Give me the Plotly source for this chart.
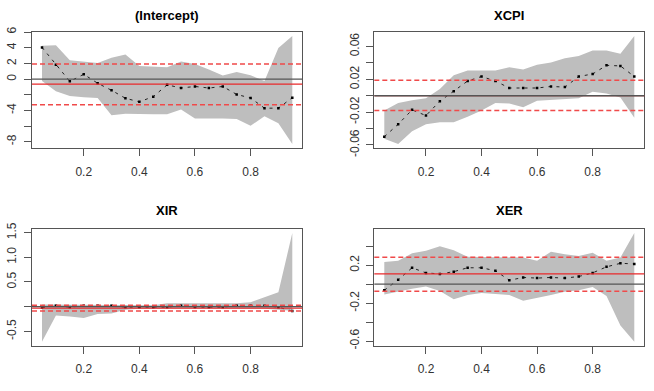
import plotly.graph_objects as go

taus = [0.05, 0.10, 0.15, 0.20, 0.25, 0.30, 0.35, 0.40, 0.45, 0.50,
        0.55, 0.60, 0.65, 0.70, 0.75, 0.80, 0.85, 0.90, 0.95]

titles = ["(Intercept)", "XCPI", "XIR", "XER"]

# quantile regression coefficient estimates
coef_intercept = [4.04, 1.84, -0.29, 0.61, -0.53, -1.43, -2.45, -2.90, -2.24, -0.73,
                  -1.14, -0.94, -1.14, -0.94, -1.96, -2.41, -3.71, -3.71, -2.37]
coef_xcpi = [-0.0499, -0.0347, -0.0172, -0.0242, -0.0066, 0.0055, 0.0179, 0.0234, 0.0179, 0.0094,
             0.0094, 0.0094, 0.0113, 0.0105, 0.0234, 0.0265, 0.0370, 0.0363, 0.0234]
coef_xir = [-0.02, 0.02, -0.01, 0.02, 0.02, 0.02, -0.01, -0.01, -0.01, -0.01,
            0.02, -0.01, -0.01, -0.01, 0.02, 0.02, 0.02, -0.01, -0.09]
coef_xer = [-0.064, 0.047, 0.173, 0.119, 0.108, 0.132, 0.173, 0.173, 0.142, 0.041,
            0.071, 0.064, 0.071, 0.064, 0.081, 0.119, 0.183, 0.220, 0.214]

# confidence band (lower / upper)
lo_intercept = [-0.24, -1.55, -2.16, -2.33, -2.41, -4.61, -4.41, -4.41, -4.49, -4.49,
                -3.88, -5.02, -5.02, -5.02, -5.10, -5.96, -4.73, -5.63, -8.29]
hi_intercept = [4.24, 4.33, 2.41, 2.24, 2.04, 2.73, 3.14, 1.67, 1.63, 1.51,
                2.24, 1.92, 1.22, 0.45, 0.90, 0.49, -0.24, 3.96, 5.51]
lo_xcpi = [-0.0523, -0.0589, -0.0433, -0.0347, -0.0324, -0.0324, -0.0257, -0.0179, -0.0090, -0.0094,
           -0.0140, -0.0062, -0.0051, -0.0039, -0.0031, 0.0047, 0.0027, -0.0023, -0.0269]
hi_xcpi = [-0.0179, -0.0090, -0.0055, -0.0031, 0.0082, 0.0250, 0.0308, 0.0308, 0.0308, 0.0347,
           0.0320, 0.0378, 0.0406, 0.0456, 0.0484, 0.0550, 0.0550, 0.0511, 0.0729]
lo_xir = [-0.71, -0.18, -0.20, -0.23, -0.15, -0.14, -0.065, -0.04, -0.04, -0.035,
          -0.035, -0.035, -0.035, -0.035, -0.035, -0.04, -0.04, -0.065, -0.085]
hi_xir = [0.045, 0.045, 0.03, 0.03, 0.03, 0.03, 0.03, 0.03, 0.03, 0.07,
          0.07, 0.07, 0.07, 0.07, 0.07, 0.09, 0.19, 0.29, 1.49]
lo_xer = [-0.108, -0.081, -0.047, -0.024, -0.071, -0.159, -0.115, -0.092, -0.105, -0.115,
          -0.176, -0.149, -0.115, -0.081, -0.064, -0.031, -0.125, -0.437, -0.607]
hi_xer = [0.234, 0.247, 0.325, 0.353, 0.400, 0.359, 0.288, 0.288, 0.285, 0.281,
          0.281, 0.247, 0.342, 0.315, 0.298, 0.332, 0.247, 0.281, 0.539]

# OLS estimate and +/- band
ols = [-0.65, 0.0, -0.03, 0.108]
ols_hi = [1.92, 0.0187, 0.03, 0.285]
ols_lo = [-3.27, -0.0179, -0.09, -0.075]

# y tick values and labels (R hides overlapping labels)
yticks = [
    ([-8, -6, -4, -2, 0, 2, 4, 6], ["-8", "", "-4", "", "0", "2", "4", "6"]),
    ([-0.06, -0.04, -0.02, 0.0, 0.02, 0.04, 0.06], ["-0.06", "", "-0.02", "", "0.02", "", "0.06"]),
    ([-0.5, 0.0, 0.5, 1.0, 1.5], ["-0.5", "", "0.5", "1.0", "1.5"]),
    ([-0.6, -0.4, -0.2, 0.0, 0.2, 0.4], ["-0.6", "", "-0.2", "", "0.2", ""]),
]
xtickvals = [0.2, 0.4, 0.6, 0.8]
xticktext = ["0.2", "0.4", "0.6", "0.8"]

coefs = [coef_intercept, coef_xcpi, coef_xir, coef_xer]
los = [lo_intercept, lo_xcpi, lo_xir, lo_xer]
his = [hi_intercept, hi_xcpi, hi_xir, hi_xer]

W, H = 654, 391
xdoms = [[32 / W, 302.3 / W], [374.3 / W, 644.3 / W]]
ydoms = [[1 - 147.7 / H, 1 - 26.5 / H], [1 - 352.7 / H, 1 - 231 / H]]
title_y = [1 - 9.5 / H, 1 - 212.5 / H]

FONT = "Liberation Sans, Arial, sans-serif"
fig = go.Figure()
layout = dict(width=W, height=H, margin=dict(l=0, r=0, t=0, b=0),
              paper_bgcolor="white", plot_bgcolor="white", showlegend=False,
              font=dict(family=FONT, size=11, color="#333"))
shapes = []
annotations = []

xmin, xmax = min(taus), max(taus)
xpad = 0.04 * (xmax - xmin)

for i in range(4):
    r, c = divmod(i, 2)
    xa = "x" if i == 0 else f"x{i+1}"
    ya = "y" if i == 0 else f"y{i+1}"
    xkey = "xaxis" if i == 0 else f"xaxis{i+1}"
    ykey = "yaxis" if i == 0 else f"yaxis{i+1}"
    lo, hi, cf = los[i], his[i], coefs[i]
    # band polygon
    fig.add_trace(go.Scatter(x=taus + taus[::-1], y=hi + lo[::-1], mode="lines",
                             fill="toself", fillcolor="#bebebe", line=dict(width=0),
                             xaxis=xa, yaxis=ya, hoverinfo="skip"))
    fig.add_trace(go.Scatter(x=taus, y=cf, mode="lines+markers",
                             line=dict(color="#222", width=1, dash="3px,5px"),
                             marker=dict(color="black", size=2.5, symbol="square"),
                             xaxis=xa, yaxis=ya))
    ymin = min(lo + [ols_lo[i]])
    ymax = max(hi + [ols_hi[i]])
    ypad = 0.04 * (ymax - ymin)
    common = dict(showgrid=False, zeroline=False, showline=True, mirror=True,
                  linecolor="#555", linewidth=1, ticks="outside", ticklen=7,
                  tickcolor="#555", tickfont=dict(size=12, color="#333", family=FONT))
    layout[xkey] = dict(domain=xdoms[c], anchor=ya, range=[xmin - xpad, xmax + xpad],
                        tickmode="array", tickvals=xtickvals, ticktext=xticktext,
                        ticklabelstandoff=5, **common)
    layout[ykey] = dict(domain=ydoms[r], anchor=xa, range=[ymin - ypad, ymax + ypad],
                        tickmode="array", tickvals=yticks[i][0], ticktext=yticks[i][1],
                        tickangle=-90, ticklabelstandoff=3, **common)
    # OLS lines and zero line
    shapes.append(dict(type="line", xref=f"{xa} domain", yref=ya, x0=0, x1=1,
                       y0=ols[i], y1=ols[i], line=dict(color="#e8282a", width=1.2)))
    for v in (ols_hi[i], ols_lo[i]):
        shapes.append(dict(type="line", xref=f"{xa} domain", yref=ya, x0=0, x1=1,
                           y0=v, y1=v, line=dict(color="#f04a4a", width=1.5, dash="5px,3px")))
    shapes.append(dict(type="line", xref=f"{xa} domain", yref=ya, x0=0, x1=1,
                       y0=0, y1=0, line=dict(color="#555", width=1.3)))
    annotations.append(dict(text=f"<b>{titles[i]}</b>", xref="paper", yref="paper",
                            x=(xdoms[c][0] + xdoms[c][1]) / 2, y=title_y[r],
                            showarrow=False, xanchor="center", yanchor="middle",
                            font=dict(size=13, color="black", family=FONT)))

layout["shapes"] = shapes
layout["annotations"] = annotations
fig.update_layout(**layout)
fig.write_html("out.html", config={"displayModeBar": False},
               post_script="document.body.style.margin='0px';")
